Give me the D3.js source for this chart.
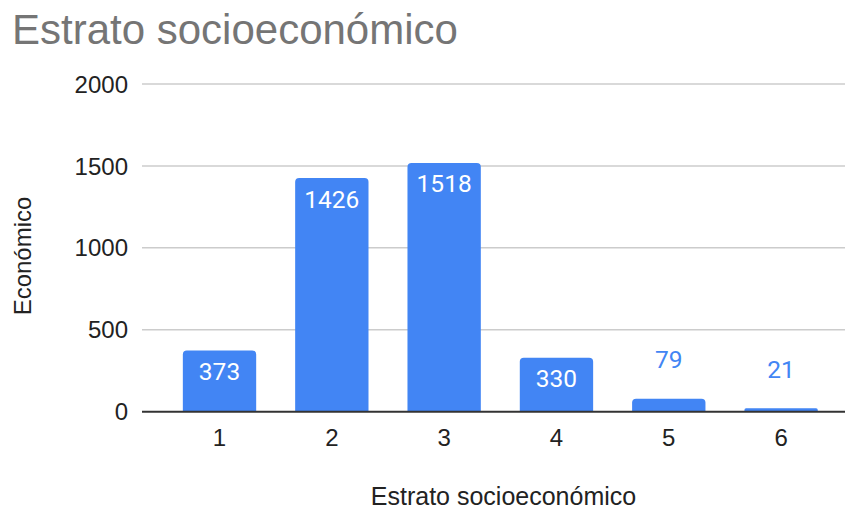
<!DOCTYPE html>
<html>
<head>
<meta charset="utf-8">
<script src="https://cdn.jsdelivr.net/npm/d3@7"></script>
<style>
  body { margin: 0; background: #fff; }
  svg { display: block; }
</style>
</head>
<body>
<svg width="846" height="509"></svg>
<script>
var categories = ["1", "2", "3", "4", "5", "6"];
var values = [373, 1426, 1518, 330, 79, 21];
var yTicks = [0, 500, 1000, 1500, 2000];

var svg, x, y, bars, blue;

svg = d3.select("svg");
blue = "#4285f4";

x = d3.scaleBand()
    .domain(categories)
    .range([142, 845])
    .paddingInner(0.347)
    .paddingOuter(0.303)
    .align(0.6);

y = d3.scaleLinear()
    .domain([0, 2000])
    .range([411.7, 84]);

// title
svg.append("text")
    .attr("x", 12)
    .attr("y", 44)
    .attr("font-family", "Liberation Sans, Arial, sans-serif")
    .attr("font-size", 42)
    .attr("fill", "#757575")
    .text("Estrato socioeconómico");

// gridlines
svg.append("g")
    .selectAll("line")
    .data(yTicks.filter(function (d) { return d !== 0; }))
    .enter().append("line")
    .attr("x1", 142)
    .attr("x2", 845)
    .attr("y1", function (d) { return y(d); })
    .attr("y2", function (d) { return y(d); })
    .attr("stroke", "#cccccc")
    .attr("stroke-width", 1.5);

// y tick labels
svg.append("g")
    .selectAll("text")
    .data(yTicks)
    .enter().append("text")
    .attr("x", 128)
    .attr("y", function (d) { return y(d); })
    .attr("dy", "0.36em")
    .attr("text-anchor", "end")
    .attr("font-family", "Liberation Sans, Arial, sans-serif")
    .attr("font-size", 24)
    .attr("fill", "#222")
    .text(function (d) { return d; });

// bars with rounded top corners
bars = svg.append("g");
bars.selectAll("path")
    .data(values)
    .enter().append("path")
    .attr("fill", blue)
    .attr("d", function (d, i) {
        var x0 = x(categories[i]), w = x.bandwidth(), y0 = y(0), y1 = y(d);
        var r = Math.min(4, (y0 - y1) / 2);
        return "M" + x0 + "," + y0 +
            "V" + (y1 + r) +
            "Q" + x0 + "," + y1 + " " + (x0 + r) + "," + y1 +
            "H" + (x0 + w - r) +
            "Q" + (x0 + w) + "," + y1 + " " + (x0 + w) + "," + (y1 + r) +
            "V" + y0 + "Z";
    });

// data labels
bars.selectAll("text")
    .data(values)
    .enter().append("text")
    .attr("x", function (d, i) { return x(categories[i]) + x.bandwidth() / 2; })
    .attr("y", function (d) {
        var top = y(d);
        return (y(0) - top) > 40 ? top + 29.5 : top - 30.5;
    })
    .attr("text-anchor", "middle")
    .attr("font-family", "Roboto, sans-serif")
    .attr("font-size", 24.5)
    .attr("fill", function (d) { return (y(0) - y(d)) > 40 ? "#ffffff" : blue; })
    .text(function (d) { return d; });

// baseline
svg.append("line")
    .attr("x1", 142)
    .attr("x2", 845)
    .attr("y1", y(0))
    .attr("y2", y(0))
    .attr("stroke", "#333333")
    .attr("stroke-width", 2);

// x tick labels
svg.append("g")
    .selectAll("text")
    .data(categories)
    .enter().append("text")
    .attr("x", function (d) { return x(d) + x.bandwidth() / 2; })
    .attr("y", 446)
    .attr("text-anchor", "middle")
    .attr("font-family", "Liberation Sans, Arial, sans-serif")
    .attr("font-size", 24)
    .attr("fill", "#222")
    .text(function (d) { return d; });

// axis titles
svg.append("text")
    .attr("x", 503.5)
    .attr("y", 505)
    .attr("text-anchor", "middle")
    .attr("font-family", "Liberation Sans, Arial, sans-serif")
    .attr("font-size", 25)
    .attr("fill", "#222")
    .text("Estrato socioeconómico");

svg.append("text")
    .attr("transform", "translate(31,256) rotate(-90)")
    .attr("text-anchor", "middle")
    .attr("font-family", "Liberation Sans, Arial, sans-serif")
    .attr("font-size", 24)
    .attr("fill", "#222")
    .text("Económico");
</script>
</body>
</html>
